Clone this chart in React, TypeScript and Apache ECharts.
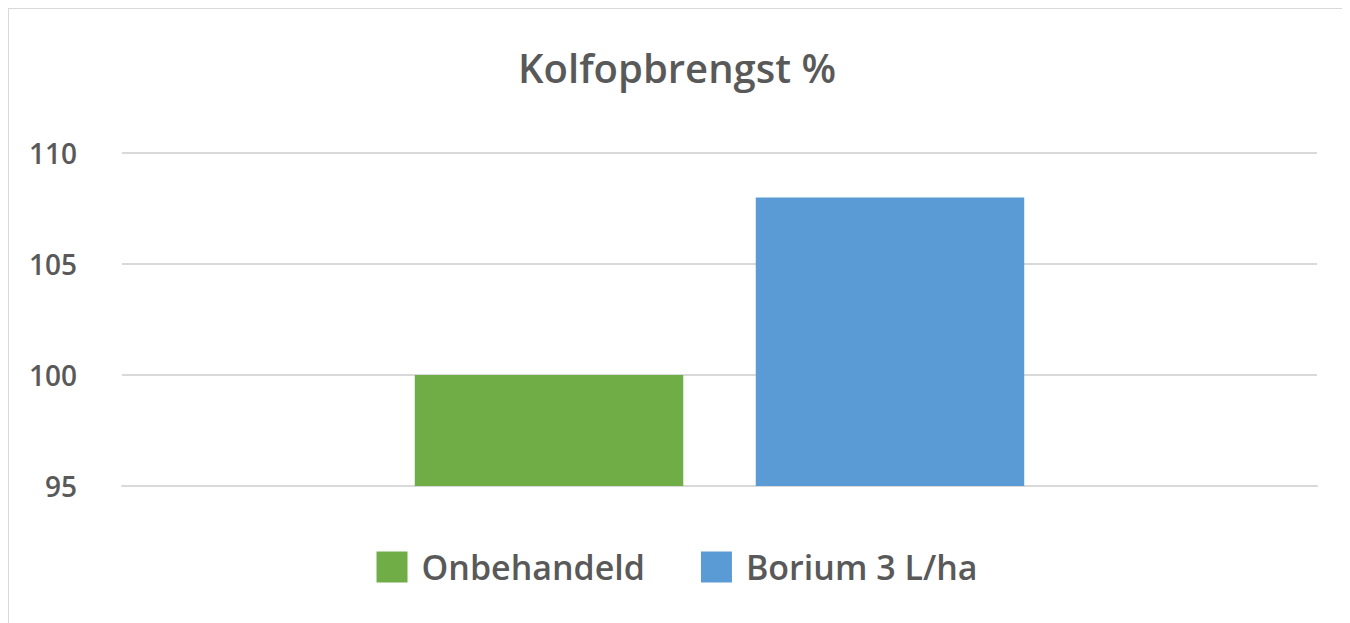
import React, { useEffect, useRef } from "react";
import * as echarts from "echarts";

const categories = [""];
const seriesNames = ["Onbehandeld", "Borium 3 L/ha"];
const onbehandeld = [100];
const borium = [108];
const yTicks = { min: 95, max: 110, interval: 5 };
const titleText = "Kolfopbrengst %";

export default function App() {
  const ref = useRef<HTMLDivElement>(null);
  useEffect(() => {
    if (!ref.current) return;
    const chart = echarts.init(ref.current, undefined, { renderer: "svg" });
    const font = "'Open Sans', 'Noto Sans', sans-serif";
    chart.setOption({
      animation: false,
      backgroundColor: "#ffffff",
      title: {
        text: titleText,
        left: "center",
        top: 33,
        textStyle: { fontFamily: font, fontSize: 40, fontWeight: 600, color: "#595959" },
      },
      legend: {
        data: seriesNames,
        bottom: 34,
        left: "center",
        icon: "rect",
        itemWidth: 31,
        itemHeight: 31,
        itemGap: 56,
        textStyle: { fontFamily: font, fontSize: 34, fontWeight: 600, color: "#595959", padding: [0, 0, 0, 9] },
      },
      grid: { left: 113, right: 28, top: 144, bottom: 137 },
      xAxis: {
        type: "category",
        data: categories,
        axisLine: { show: true, lineStyle: { color: "#d9d9d9", width: 2 } },
        axisTick: { show: false },
        axisLabel: { show: false },
      },
      yAxis: {
        type: "value",
        min: yTicks.min,
        max: yTicks.max,
        interval: yTicks.interval,
        axisLine: { show: false },
        axisTick: { show: false },
        axisLabel: { margin: 45, fontFamily: font, fontSize: 28, fontWeight: 600, color: "#595959" },
        splitLine: { lineStyle: { color: "#d9d9d9", width: 2 } },
      },
      series: [
        {
          name: seriesNames[0],
          type: "bar",
          data: onbehandeld,
          barGap: "27%",
          barCategoryGap: "49%",
          itemStyle: { color: "#70AD47" },
        },
        {
          name: seriesNames[1],
          type: "bar",
          data: borium,
          barGap: "27%",
          barCategoryGap: "49%",
          itemStyle: { color: "#5B9BD5" },
        },
      ],
    });
    return () => chart.dispose();
  }, []);
  return (
    <div
      style={{
        width: 1338,
        height: 615,
        boxSizing: "border-box",
        borderTop: "1px solid #d9d9d9",
        borderLeft: "1px solid #d9d9d9",
        borderRight: "1px solid #d9d9d9",
        overflow: "hidden",
      }}
    >
      <div ref={ref} style={{ width: 1336, height: 614 }} />
    </div>
  );
}
